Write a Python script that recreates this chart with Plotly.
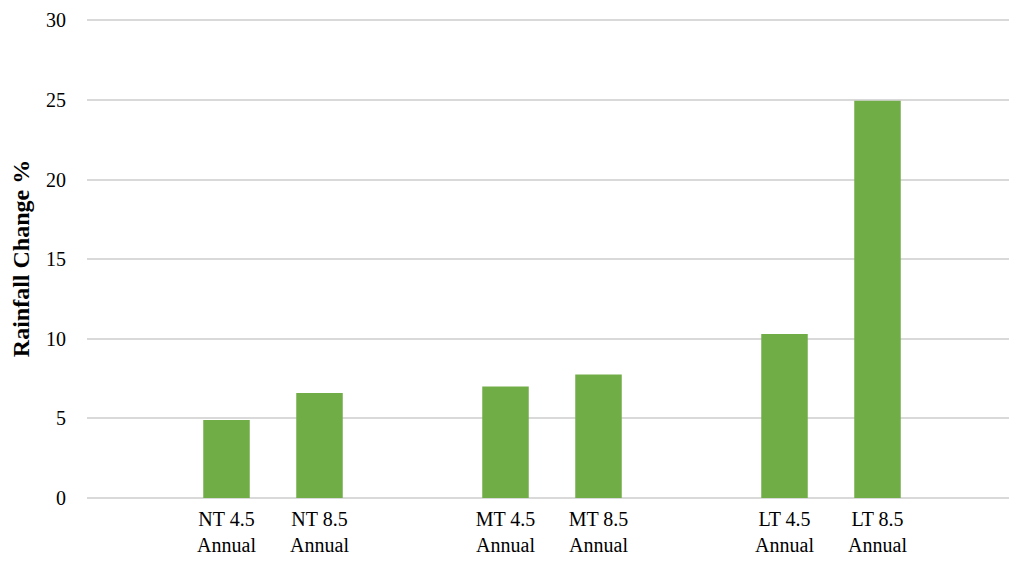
import plotly.graph_objects as go

categories = ["", "NT 4.5<br>Annual", "NT 8.5<br>Annual", " ", "MT 4.5<br>Annual",
              "MT 8.5<br>Annual", "  ", "LT 4.5<br>Annual", "LT 8.5<br>Annual", "   "]
values = [None, 4.9, 6.6, None, 7.0, 7.75, None, 10.3, 24.95, None]
y_ticks = [0, 5, 10, 15, 20, 25, 30]

fig = go.Figure(go.Bar(x=categories, y=values, marker=dict(color="#70ad47", line=dict(width=0))))

yfont = dict(family="Liberation Serif", size=20, color="#000000")
xfont = dict(family="Liberation Serif", size=20, color="#000000")
fig.update_layout(
    width=1009, height=553,
    margin=dict(l=79, r=0, t=11, b=63),
    plot_bgcolor="white", paper_bgcolor="white",
    bargap=0.5, showlegend=False,
    font=yfont,
)
fig.update_xaxes(type="category", showgrid=False, showline=False, zeroline=False,
                 tickfont=xfont, ticks="", ticklabelstandoff=7, automargin=False)
fig.update_yaxes(range=[0, 30.08], tickvals=y_ticks, showgrid=True, gridcolor="#d9d9d9", gridwidth=2,
                 zeroline=True, zerolinecolor="#d9d9d9", zerolinewidth=2,
                 showline=False, tickfont=yfont, ticklabelstandoff=20, ticklabeloverflow="allow",
                 title=dict(text="<b>Rainfall Change %</b>",
                            font=dict(family="Liberation Serif", size=24, color="#000000"), standoff=11),
                 automargin=False)

fig.write_html("out.html")
